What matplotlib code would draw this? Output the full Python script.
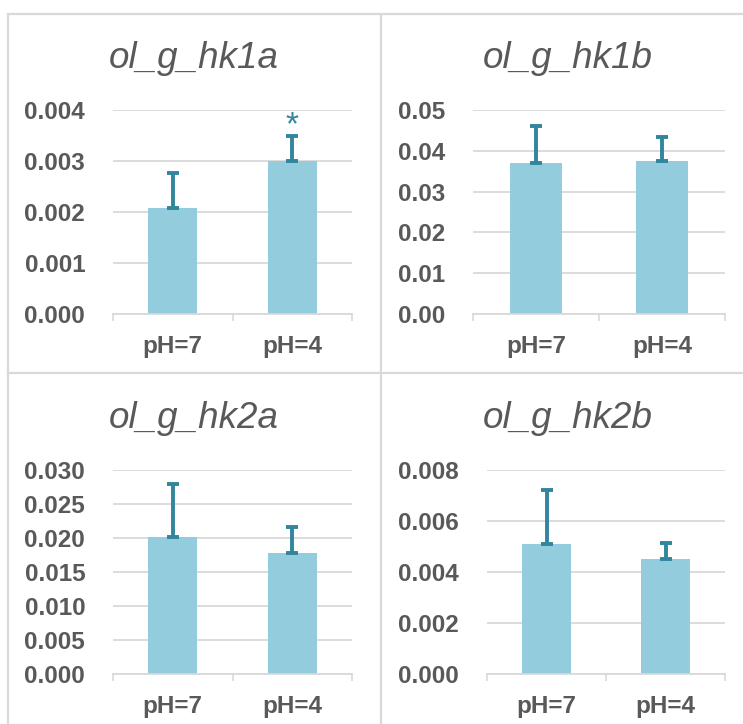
import numpy as np
import matplotlib
matplotlib.use("Agg")
import matplotlib.pyplot as plt
from matplotlib.lines import Line2D

# data
categories = ["pH=7", "pH=4"]
titles = ["ol_g_hk1a", "ol_g_hk1b", "ol_g_hk2a", "ol_g_hk2b"]
means = [
    [0.00207, 0.00300],
    [0.0371, 0.0375],
    [0.0202, 0.0178],
    [0.0051, 0.0045],
]
errors = [
    [0.00069, 0.00049],
    [0.0090, 0.0058],
    [0.0077, 0.0038],
    [0.0021, 0.00065],
]
y_max = [0.004, 0.05, 0.03, 0.008]
y_step = [0.001, 0.01, 0.005, 0.002]
y_fmt = ["{:.3f}", "{:.2f}", "{:.3f}", "{:.3f}"]
star_panel = 0
star_index = 1

bar_color = "#93CDDD"
err_color = "#31859C"
grid_color = "#D9D9D9"
text_color = "#595959"

W, H = 743, 724
fig = plt.figure(figsize=(W / 100, H / 100), dpi=100)
plt.rcParams["font.family"] = ["Liberation Sans", "DejaVu Sans"]

# axes boxes in pixels: left, right, top, bottom
boxes = [
    (113, 352, 110, 314),
    (473, 725, 110, 314),
    (113, 352, 470, 674),
    (487, 725, 470, 674),
]
# title centres (pixels)
title_pos = [(194, 58), (568, 58), (194, 418), (568, 418)]

x = np.arange(len(categories))
for i in range(4):
    l, r, t, b = boxes[i]
    ax = fig.add_axes([l / W, 1 - b / H, (r - l) / W, (b - t) / H])
    ax.bar(x, means[i], width=0.41, color=bar_color, zorder=2)
    ax.errorbar(x, means[i], yerr=[[0, 0], errors[i]], fmt="none",
                ecolor=err_color, elinewidth=2.8, capsize=4.3, capthick=2.8, zorder=3)
    ax.set_xlim(-0.5, 1.5)
    ax.set_ylim(0, y_max[i])
    ticks = np.arange(0, y_max[i] + y_step[i] / 2, y_step[i])
    ax.set_yticks(ticks)
    ax.set_yticklabels([y_fmt[i].format(v) for v in ticks])
    ax.set_xticks(x)
    ax.set_xticklabels(categories)
    ax.set_xticks([-0.5, 0.5, 1.5], minor=True)
    ax.tick_params(axis="x", which="major", length=0, pad=15, labelsize=17.5, labelcolor=text_color)
    ax.tick_params(axis="x", which="minor", length=5, width=1.2, color=grid_color, direction="out")
    ax.tick_params(axis="y", length=0, pad=20, labelsize=17.5, labelcolor=text_color)
    for lab in ax.get_xticklabels() + ax.get_yticklabels():
        lab.set_fontweight("bold")
    ax.grid(axis="y", color=grid_color, linewidth=1.3, zorder=0)
    for s in ["top", "right", "left"]:
        ax.spines[s].set_visible(False)
    ax.spines["bottom"].set_color(grid_color)
    ax.spines["bottom"].set_linewidth(1.3)
    ax.set_facecolor("none")
    if i == star_panel:
        ax.text(x[star_index], means[i][star_index] + errors[i][star_index] - 0.0001, "*",
                ha="center", va="bottom", fontsize=24, color=err_color)
    tx, ty = title_pos[i]
    fig.text(tx / W, 1 - ty / H, titles[i], ha="center", va="center",
             fontsize=26.5, style="italic", color=text_color)

# panel frame lines
frame_kw = dict(color=grid_color, linewidth=1.6, transform=fig.transFigure)
fig.add_artist(Line2D([8 / W, 1], [1 - 14 / H] * 2, **frame_kw))
fig.add_artist(Line2D([8 / W] * 2, [0, 1 - 14 / H], **frame_kw))
fig.add_artist(Line2D([381 / W] * 2, [0, 1 - 14 / H], **frame_kw))
fig.add_artist(Line2D([8 / W, 1], [1 - 373 / H] * 2, **frame_kw))

fig.savefig("out.png", dpi=100)
